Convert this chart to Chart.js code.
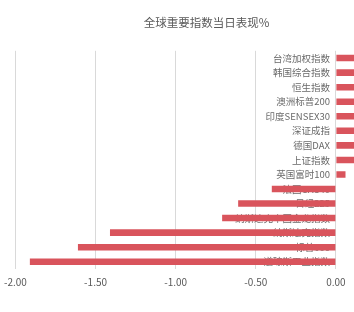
<!DOCTYPE html>
<html>
<head>
<meta charset="utf-8">
<script src="https://cdn.jsdelivr.net/npm/chart.js@4"></script>
<style>
html,body{margin:0;padding:0;background:#fff;overflow:hidden;}
#wrap{width:419px;height:312px;position:relative;margin-left:-3px;}
</style>
</head>
<body>
<div id="wrap"><canvas id="c"></canvas></div>
<script>
const categories = ["台湾加权指数","韩国综合指数","恒生指数","澳洲标普200","印度SENSEX30","深证成指","德国DAX","上证指数","英国富时100","法国CAC40","日经225","纳斯达克中国金龙指数","纳斯达克指数","标普500","道琼斯工业指数"];
const changes = [0.85,0.74,0.62,0.50,0.41,0.33,0.27,0.19,0.06,-0.40,-0.61,-0.71,-1.41,-1.61,-1.91];
const xTickValues = [-2.0,-1.5,-1.0,-0.5,0.0];
const titleText = "全球重要指数当日表现%";

const font = "'Noto Sans CJK SC','Noto Sans',sans-serif";
new Chart(document.getElementById('c'), {
  type: 'bar',
  data: {
    labels: categories,
    datasets: [{
      data: changes,
      backgroundColor: '#d9545c',
      barPercentage: 0.45,
      categoryPercentage: 1
    }]
  },
  options: {
    indexAxis: 'y',
    responsive: true,
    maintainAspectRatio: false,
    animation: false,
    layout: { padding: { left: 0, right: 0, top: 0, bottom: 17 } },
    plugins: {
      legend: { display: false },
      tooltip: { enabled: false },
      title: {
        display: true,
        text: titleText,
        color: '#595959',
        font: { family: font, size: 11.5, weight: 'normal' },
        padding: { top: 16, bottom: 21 }
      }
    },
    scales: {
      x: {
        min: -2,
        max: 0.5,
        afterBuildTicks: (scale) => { scale.ticks = xTickValues.map(v => ({ value: v })); },
        ticks: {
          color: '#595959',
          font: { family: font, size: 10 },
          padding: 7,
          maxRotation: 0,
          callback: (v) => Number(v).toFixed(2)
        },
        grid: { color: '#d9d9d9', drawTicks: false },
        border: { display: false }
      },
      y: {
        position: { x: -0.037 },
        z: 1,
        ticks: {
          color: '#6a6a6a',
          font: { family: font, size: 9.5 },
          autoSkip: false
        },
        grid: { display: false, drawTicks: false },
        border: { display: false }
      }
    }
  }
});
</script>
</body>
</html>
